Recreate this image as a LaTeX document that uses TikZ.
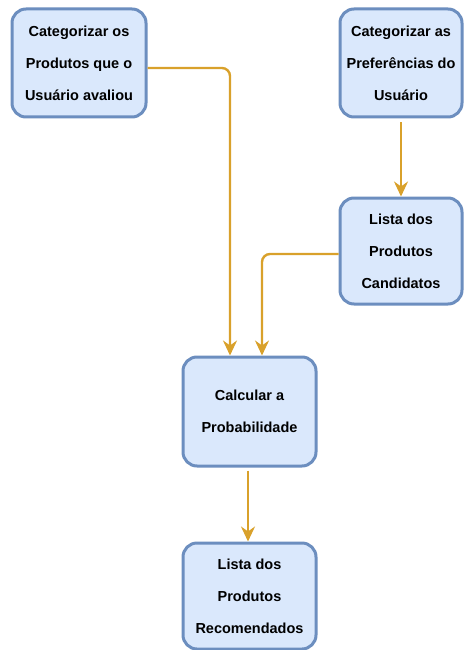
\documentclass[tikz,border=0pt]{standalone}
\usepackage{fontspec}
\setmainfont{Liberation Sans}
\usetikzlibrary{arrows.meta,calc}
\definecolor{boxfill}{HTML}{DAE8FC}
\definecolor{boxline}{HTML}{6C8EBF}
\definecolor{arr}{HTML}{D9A12B}
\begin{document}
\begin{tikzpicture}[x=1pt,y=-1pt,
  box/.style={draw=boxline, fill=boxfill, line width=3pt, rounded corners=14pt,
    align=center, font=\fontsize{14.5}{32}\selectfont\bfseries, inner sep=0pt},
  link/.style={draw=arr, line width=2.4pt, rounded corners=8pt,
    -{Stealth[length=15pt,width=14pt,inset=5pt]}}]
\useasboundingbox (0,0) rectangle (465,650);
\node[box, minimum width=134pt, minimum height=108pt] (b1) at (79,63)
  {Categorizar os\\Produtos que o\\Usuário avaliou};
\node[box, minimum width=122pt, minimum height=108pt] (b2) at (401,63)
  {Categorizar as\\Preferências do\\Usuário};
\node[box, minimum width=122pt, minimum height=106pt] (b3) at (401,251)
  {Lista dos\\Produtos\\Candidatos};
\node[box, minimum width=133pt, minimum height=109pt] (b4) at (249.5,411.5)
  {Calcular a\\Probabilidade};
\node[box, minimum width=133pt, minimum height=106pt] (b5) at (249.5,596)
  {Lista dos\\Produtos\\Recomendados};
\draw[link] ($(b1.east)+(0,5)$) -| ($(b4.north)+(-19.5,0)$);
\draw[link, shorten <=4pt] (b2.south) -- (b3.north);
\draw[link] ($(b3.west)+(0,3)$) -| ($(b4.north)+(12.5,0)$);
\draw[link, shorten <=3pt] ($(b4.south)+(-1.5,0)$) -- ($(b5.north)+(-1.5,0)$);
\end{tikzpicture}
\end{document}
